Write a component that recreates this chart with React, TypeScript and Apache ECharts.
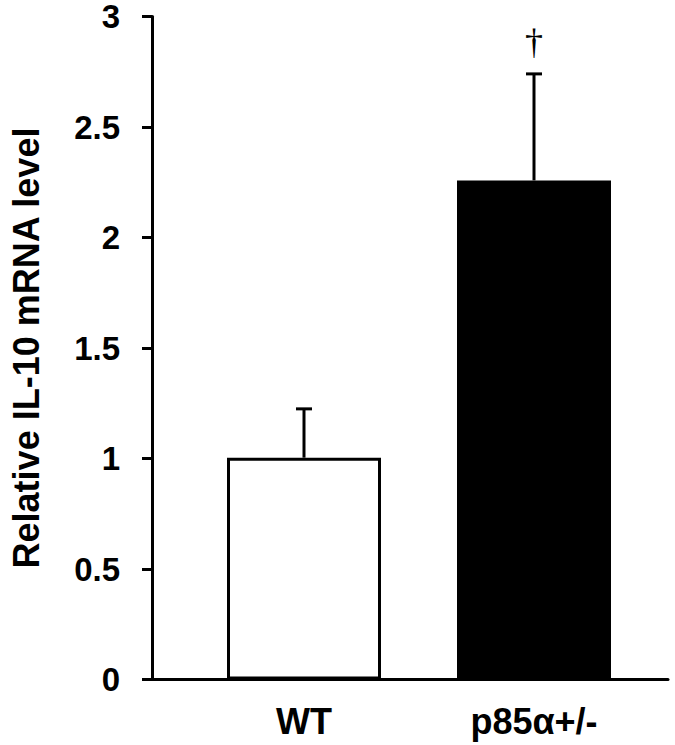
import React, { useEffect, useRef } from "react";
import * as echarts from "echarts";

const categories = ["WT", "p85α+/-"];
const means = [1.0, 2.25];
const errors = [0.22, 0.48];
const marks = ["", "†"];
const barColors = ["#ffffff", "#000000"];
const yTitle = "Relative IL-10 mRNA level";

const FONT = "'Liberation Sans', Arial, Helvetica, sans-serif";

export default function App() {
  const ref = useRef<HTMLDivElement>(null);
  useEffect(() => {
    if (!ref.current) return;
    const chart = echarts.init(ref.current, undefined, { renderer: "svg" });
    const gridTop = 14;
    const gridBottom = 65.5;
    chart.setOption({
      animation: false,
      backgroundColor: "#ffffff",
      grid: [
        { left: 189, right: 26, top: gridTop, bottom: gridBottom },
        { left: 152, right: 7, top: gridTop, bottom: gridBottom },
      ],
      xAxis: [
        {
          type: "category",
          gridIndex: 0,
          data: categories,
          axisLine: { show: false },
          axisTick: { show: false },
          axisLabel: {
            margin: 24,
            fontSize: 36,
            fontWeight: "bold",
            fontFamily: FONT,
            color: "#000",
          },
        },
        {
          type: "value",
          gridIndex: 1,
          min: 0,
          max: 1,
          axisLine: { show: true, onZero: false, lineStyle: { color: "#000", width: 3 } },
          axisTick: { show: false },
          axisLabel: { show: false },
          splitLine: { show: false },
        },
      ],
      yAxis: [
        {
          type: "value",
          gridIndex: 0,
          min: 0,
          max: 3,
          interval: 0.5,
          axisLine: { show: false },
          axisTick: { show: false },
          axisLabel: { show: false },
          splitLine: { show: false },
        },
        {
          type: "value",
          gridIndex: 1,
          min: 0,
          max: 3,
          interval: 0.5,
          name: yTitle,
          nameLocation: "middle",
          nameRotate: 90,
          nameGap: 108,
          nameTextStyle: {
            fontSize: 36,
            fontWeight: "bold",
            fontFamily: FONT,
            color: "#000",
          },
          axisLine: { show: true, lineStyle: { color: "#000", width: 3 } },
          axisTick: { show: true, inside: false, length: 10, lineStyle: { color: "#000", width: 3 } },
          axisLabel: {
            margin: 32,
            fontSize: 33,
            lineHeight: 26,
            fontWeight: "bold",
            fontFamily: FONT,
            color: "#000",
          },
          splitLine: { show: false },
        },
      ],
      series: [
        {
          type: "bar",
          xAxisIndex: 0,
          yAxisIndex: 0,
          barWidth: 154,
          data: means.map((v, i) => ({
            value: v,
            itemStyle: {
              color: barColors[i],
              borderColor: "#000",
              borderWidth: 3,
            },
          })),
        },
        {
          type: "custom",
          xAxisIndex: 0,
          yAxisIndex: 0,
          z: 5,
          data: means.map((v, i) => [i, v, errors[i]]),
          renderItem: (params: any, api: any) => {
            const x = api.value(0);
            const v = api.value(1);
            const e = api.value(2);
            const base = api.coord([x, v]);
            const top = api.coord([x, v + e]);
            const half = 8;
            const children: any[] = [
              {
                type: "line",
                shape: { x1: base[0], y1: base[1], x2: top[0], y2: top[1] },
                style: { stroke: "#000", lineWidth: 3 },
              },
              {
                type: "line",
                shape: { x1: top[0] - half, y1: top[1], x2: top[0] + half, y2: top[1] },
                style: { stroke: "#000", lineWidth: 3 },
              },
            ];
            const m = marks[params.dataIndex];
            if (m) {
              children.push({
                type: "text",
                x: top[0],
                y: top[1] - 14,
                style: {
                  text: m,
                  fill: "#000",
                  fontSize: 36,
                  fontWeight: "normal",
                  fontFamily: "'Liberation Serif', 'DejaVu Serif', serif",
                  textAlign: "center",
                  textVerticalAlign: "bottom",
                },
              });
            }
            return { type: "group", children };
          },
        },
      ],
    });
    return () => chart.dispose();
  }, []);
  return (
    <div
      ref={ref}
      style={{ position: "fixed", left: 0, top: 0, width: 675, height: 745, background: "#fff" }}
    />
  );
}
